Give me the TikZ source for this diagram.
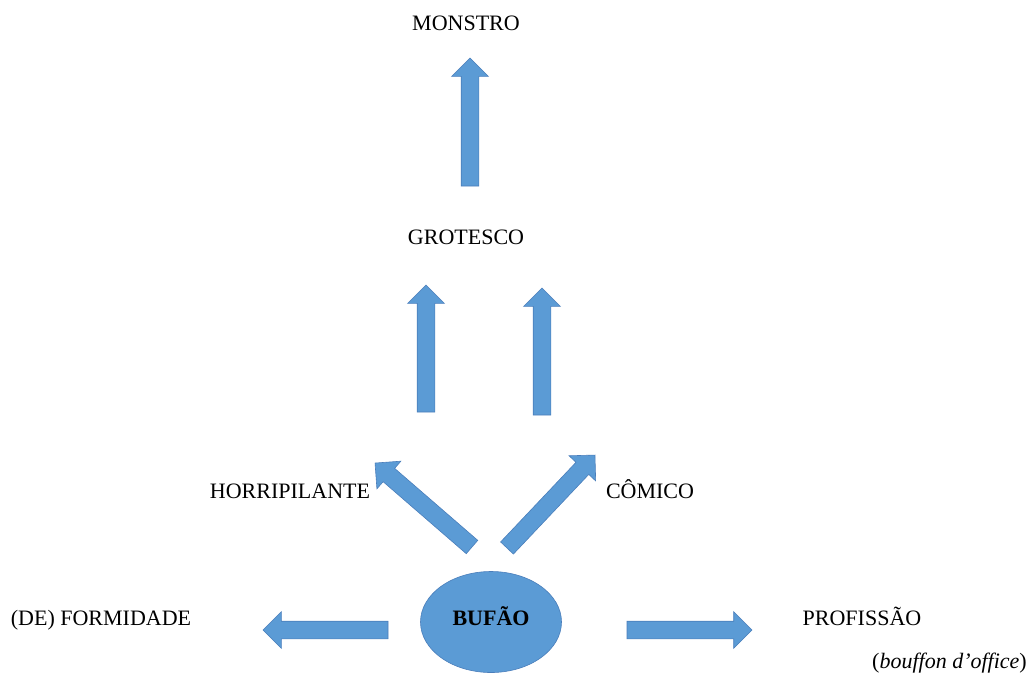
\documentclass[tikz,border=0pt]{standalone}
\usepackage{fontspec}
\setmainfont{Liberation Serif}
\usetikzlibrary{shapes.arrows,shapes.geometric,calc}
\definecolor{bluefill}{HTML}{5B9BD5}
\definecolor{blueline}{HTML}{4A7EBB}
\tikzstyle{word} = [font=\fontsize{22}{26}\selectfont, inner sep=0pt, text height=1.5ex, text depth=0pt]
\tikzstyle{block} = [single arrow, draw=blueline, fill=bluefill, line width=0.6pt, inner xsep=0pt, inner ysep=8.5pt, outer sep=0pt, single arrow head extend=9.5pt, single arrow tip angle=90, anchor=tail]

\begin{document}
\begin{tikzpicture}[x=1pt,y=-1pt]
\useasboundingbox (0,0) rectangle (1030,681);

% arrow ends
\coordinate (A1s) at (470,186);
\coordinate (A1t) at (470,58);
\coordinate (A2s) at (426,412);
\coordinate (A2t) at (426,285);
\coordinate (A3s) at (542,415);
\coordinate (A3t) at (542,288);
\coordinate (A4s) at (472,547);
\coordinate (A4t) at (375,463);
\coordinate (A5s) at (507,548);
\coordinate (A5t) at (595,455);
\coordinate (A6s) at (388,630);
\coordinate (A6t) at (263,630);
\coordinate (A7s) at (627,630);
\coordinate (A7t) at (752,630);

\node[word] (monstro) at (466,27) {MONSTRO};
\node[word] (grotesco) at (466,241) {GROTESCO};
\node[word] (horri) at (290,495) {HORRIPILANTE};
\node[word] (comico) at (650,495) {CÔMICO};
\node[word] (forma) at (101,622) {(DE) FORMIDADE};
\node[word] (prof) at (862,622) {PROFISSÃO};
\node[word, anchor=east] (office) at (1027,665) {(\textit{bouffon d’office})};

\node[ellipse, draw=blueline, fill=bluefill, line width=0.6pt, minimum width=141pt, minimum height=101pt, inner sep=0pt,
      text height=1.5ex, text depth=0pt, font=\fontsize{22}{26}\selectfont\bfseries] (bufao) at (491,622) {BUFÃO};

\foreach \i in {1,...,7}
  \path let \p1 = ($(A\i t)-(A\i s)$), \n1 = {atan2(\y1,\x1)}, \n2 = {veclen(\x1,\y1)} in
    node[block, minimum height=\n2, rotate=\n1] (arr\i) at (A\i s) {};

\end{tikzpicture}
\end{document}
